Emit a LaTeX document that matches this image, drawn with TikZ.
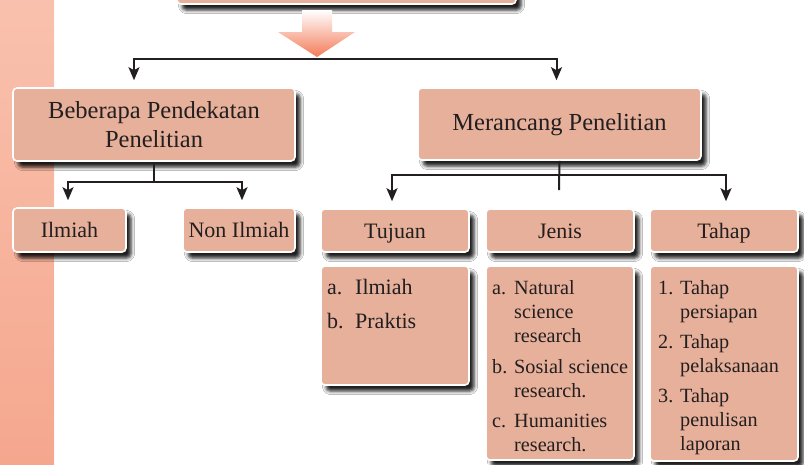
\documentclass[tikz,border=0pt]{standalone}
\usepackage{fontspec}
\setmainfont{Liberation Serif}
\usetikzlibrary{arrows.meta,shadows.blur}
\definecolor{boxfill}{HTML}{E7B09A}
\definecolor{ink}{HTML}{231F20}
\definecolor{bandtop}{HTML}{F9C1AD}
\definecolor{bandbot}{HTML}{F5A78E}
\definecolor{arrowc}{HTML}{F37B58}
\newcommand{\hfont}{\fontsize{24.5}{28.5}\selectfont}
\newcommand{\bfontx}{\fontsize{22}{26}\selectfont}
\newcommand{\lfont}{\fontsize{20.2}{24}\selectfont}
\newcommand{\tfont}{\fontsize{22}{26.5}\selectfont}
\begin{document}
\begin{tikzpicture}[x=1pt,y=-1pt,
  box/.style={draw=white, line width=1.6pt, rounded corners=4pt, fill=boxfill, inner sep=0pt, text=ink,
    blur shadow={shadow xshift=5pt, shadow yshift=-6pt, shadow blur radius=3.5pt, shadow opacity=88}},
  lbl/.style={box, text height=17pt, text depth=2pt},
  conn/.style={draw=ink, line width=2pt},
  arr/.style={conn, -{Stealth[length=13pt,width=11pt,inset=3pt]}, shorten >=7pt},
  listtext/.style={anchor=north west, inner sep=0pt, text=ink}
]
\useasboundingbox (0,0) rectangle (804,464);
\fill[white] (0,0) rectangle (804,464);
% left band
\shade[top color=bandtop, bottom color=bandbot] (0,0) rectangle (54,464);
\draw[white, opacity=0.5, line width=1pt] (54.5,0) -- (54.5,464);

% top box (cut off)
\node[box, minimum width=339pt, minimum height=40pt] (top) at (346.5,-16) {};

% big arrow
\shade[top color=white, bottom color=arrowc] (302,10) -- (332,10) -- (332,32) -- (355,32) -- (317,57) -- (278,32) -- (302,32) -- cycle;
\coordinate (jM) at (317,59);
\coordinate (jL) at (134,59);
\coordinate (jR) at (556.5,59);

% level 1
\node[box, minimum width=282pt, minimum height=73pt, align=center, font=\hfont] (beb) at (154,124.5) {Beberapa Pendekatan\\Penelitian};
\node[box, minimum width=283pt, minimum height=72pt, font=\hfont, text height=17pt, text depth=5pt] (mer) at (559.5,124) {Merancang Penelitian};

\draw[arr] (jM) -| (jL |- beb.north);
\draw[arr] (jM) -| (jR |- mer.north);

% level 2 left
\node[lbl, minimum width=113pt, minimum height=44pt, font=\bfontx] (ilm) at (69.5,230) {Ilmiah};
\node[lbl, minimum width=112pt, minimum height=44pt, font=\bfontx] (non) at (239,230) {Non Ilmiah};
\coordinate (bj) at (154,182);
\coordinate (aL) at (68,182);
\coordinate (aR) at (242,182);
\draw[conn] (beb.south) -- (bj);
\draw[arr] (bj) -| (aL |- ilm.north);
\draw[arr] (bj) -| (aR |- non.north);

% level 2 right
\node[lbl, minimum width=148pt, minimum height=43pt, font=\bfontx] (tuj) at (395,230.5) {Tujuan};
\node[lbl, minimum width=148pt, minimum height=43pt, font=\bfontx] (jen) at (560,230.5) {Jenis};
\node[lbl, minimum width=148pt, minimum height=43pt, font=\bfontx] (tah) at (724,230.5) {Tahap};
\coordinate (mj) at (559,175);
\coordinate (mstub) at (559,190);
\coordinate (tL) at (392,175);
\coordinate (tR) at (726,175);
\draw[conn] (mer.south) -- (mstub);
\draw[arr] (mj) -| (tL |- tuj.north);
\draw[arr] (mj) -| (tR |- tah.north);

% list boxes
\node[box, minimum width=148pt, minimum height=119pt] (tujL) at (395,325.5) {};
\node[box, minimum width=148pt, minimum height=194pt] (jenL) at (560,363) {};
\node[box, minimum width=148pt, minimum height=195pt] (tahL) at (724,363.5) {};

\node[listtext, font=\tfont] (tujT) at (327,275.75) {%
\begin{tabular}{@{}p{28pt}@{}l@{}}
a. & Ilmiah\\[7.5pt]
b. & Praktis
\end{tabular}};

\node[listtext, font=\lfont] (jenT) at (492,277.2) {%
\begin{tabular}{@{}p{22pt}@{}l@{}}
a. & Natural\\
 & science\\
 & research\\[7pt]
b. & Sosial science\\
 & research.\\[6.3pt]
c. & Humanities\\
 & research.
\end{tabular}};

\node[listtext, font=\lfont] (tahT) at (658,277.2) {%
\begin{tabular}{@{}p{22pt}@{}l@{}}
1. & Tahap\\
 & persiapan\\[6.3pt]
2. & Tahap\\
 & pelaksanaan\\[6.3pt]
3. & Tahap\\
 & penulisan\\
 & laporan
\end{tabular}};
\end{tikzpicture}
\end{document}
